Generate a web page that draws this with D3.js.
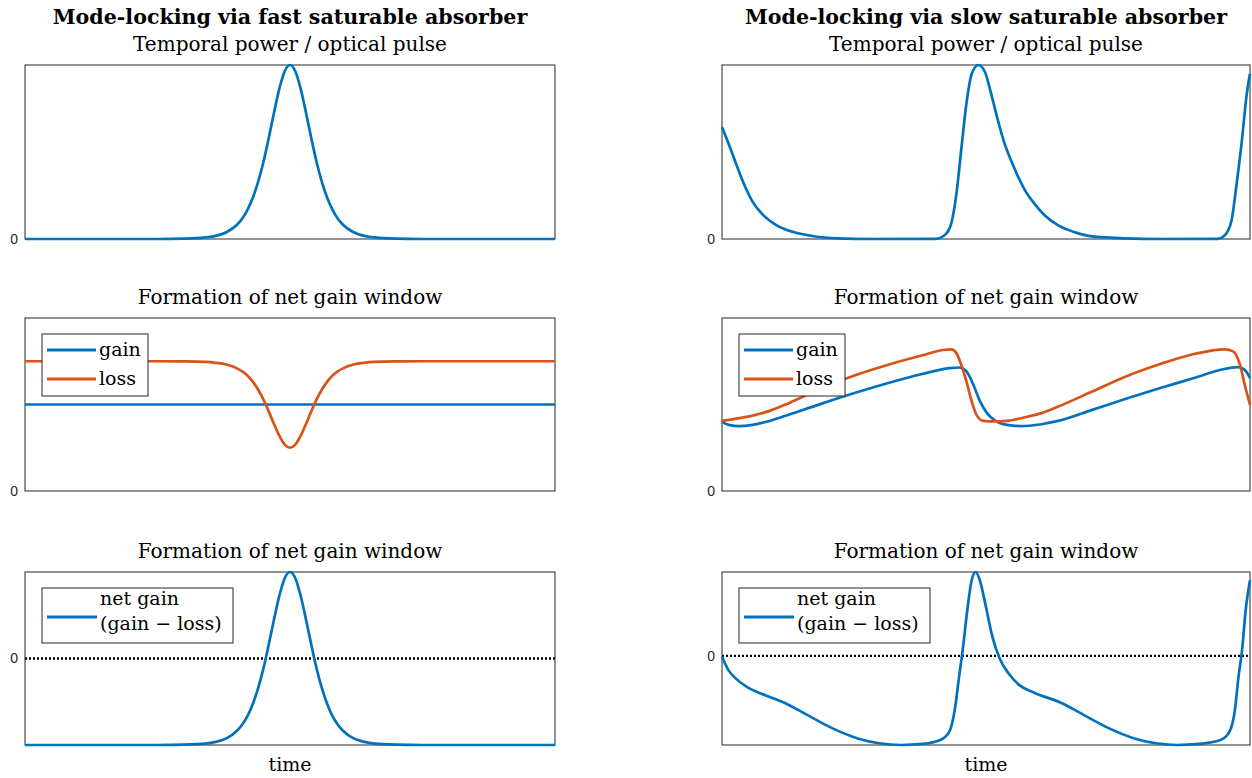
<!DOCTYPE html>
<html><head>
<meta charset="UTF-8">
<title>Mode-locking via saturable absorber</title>
<script src="https://cdn.jsdelivr.net/npm/d3@7"></script>
<style>
    body { margin: 0; background: #fff; }
    svg text { font-family: "DejaVu Serif", serif; fill: #000; }
</style>
</head>
<body>
<svg id="chart" width="1252" height="778"></svg>
<script>
// ---- data (time axis runs 0..100 in every panel) ----
// fast saturable absorber
const fastTime  = [0, 20, 25, 30, 34, 36, 38, 40, 41, 42, 43, 44, 45, 46, 47, 48, 49, 50, 51, 52, 53, 54, 55, 56, 57, 58, 59, 60, 62, 64, 66, 70, 75, 80, 100];
const fastPulse = [0, 0, 0, 0.002, 0.009, 0.018, 0.039, 0.082, 0.118, 0.169, 0.238, 0.33, 0.444, 0.582, 0.729, 0.865, 0.964, 1, 0.964, 0.865, 0.729, 0.582, 0.444, 0.33, 0.238, 0.169, 0.118, 0.082, 0.039, 0.018, 0.009, 0.002, 0, 0, 0];
const fastLoss  = [0.75, 0.75, 0.75, 0.749, 0.746, 0.741, 0.731, 0.709, 0.691, 0.666, 0.631, 0.585, 0.528, 0.459, 0.386, 0.318, 0.268, 0.25, 0.268, 0.318, 0.386, 0.459, 0.528, 0.585, 0.631, 0.666, 0.691, 0.709, 0.731, 0.741, 0.746, 0.749, 0.75, 0.75, 0.75];
const fastNet   = [-0.25, -0.25, -0.25, -0.249, -0.246, -0.241, -0.231, -0.209, -0.191, -0.166, -0.131, -0.085, -0.028, 0.041, 0.114, 0.182, 0.232, 0.25, 0.232, 0.182, 0.114, 0.041, -0.028, -0.085, -0.131, -0.166, -0.191, -0.209, -0.231, -0.241, -0.246, -0.249, -0.25, -0.25, -0.25];
const fastGainTime = [0, 100];
const fastGain     = [0.5, 0.5];

// slow saturable absorber
const slowPulseTime = [0, 1.29, 2.57, 4.18, 5.79, 7.72, 10.29, 13.5, 17.4, 21.9, 28.3, 40.5, 42.1, 43.4, 44.4, 45.3, 46.3, 47.3, 48.55, 49.8, 50.8, 52.1, 53.4, 54.7, 55.9, 57.2, 59.2, 61.1, 63.7, 66.9, 70.1, 76.5, 83, 93.9, 95.2, 96.5, 97.4, 98.4, 99.4, 100];
const slowPulse     = [0.644, 0.545, 0.44, 0.315, 0.215, 0.14, 0.08, 0.04, 0.016, 0.004, 0, 0.001, 0.02, 0.087, 0.26, 0.51, 0.78, 0.95, 1.0, 0.96, 0.856, 0.70, 0.56, 0.455, 0.37, 0.29, 0.202, 0.137, 0.078, 0.038, 0.015, 0.004, 0, 0.001, 0.02, 0.106, 0.30, 0.548, 0.837, 0.95];
const slowGainTime = [0, 1.29, 3.22, 5.79, 9.0, 12.2, 18.6, 25.1, 31.5, 37.9, 43.1, 45.0, 46.3, 47.6, 48.9, 50.2, 51.8, 54.0, 56.6, 60.5, 63.7, 70.1, 76.5, 83.0, 89.4, 94.5, 97.7, 99.0, 100];
const slowGain     = [0.398, 0.382, 0.375, 0.382, 0.405, 0.436, 0.502, 0.566, 0.624, 0.676, 0.710, 0.714, 0.691, 0.614, 0.517, 0.450, 0.405, 0.382, 0.375, 0.386, 0.405, 0.469, 0.533, 0.595, 0.653, 0.701, 0.716, 0.70, 0.653];
const slowLossTime = [0, 3.22, 5.79, 9.0, 12.2, 15.4, 18.6, 25.1, 31.5, 37.9, 41.8, 43.4, 44.4, 45.3, 46.3, 47.3, 48.2, 49.5, 51.4, 54.0, 57.2, 60.5, 63.7, 70.1, 76.5, 83.0, 89.4, 95.2, 96.8, 98.1, 99.0, 100];
const slowLoss     = [0.405, 0.421, 0.436, 0.463, 0.502, 0.546, 0.591, 0.668, 0.730, 0.784, 0.815, 0.819, 0.797, 0.730, 0.633, 0.517, 0.440, 0.405, 0.402, 0.405, 0.425, 0.450, 0.488, 0.575, 0.662, 0.734, 0.792, 0.819, 0.807, 0.730, 0.614, 0.498];
const slowNetTime = [0, 1.22, 2.59, 4.63, 7.35, 11.4, 16.2, 20.95, 25.7, 29.8, 33.9, 37.96, 41.36, 43.06, 44.08, 44.9, 45.58, 46.46, 47.28, 48.03, 48.84, 49.86, 51.22, 52.59, 54.29, 56.33, 59.05, 64.49, 68.57, 73.33, 78.1, 82.18, 86.26, 90.34, 94.42, 96.12, 97.14, 97.82, 98.5, 99.18, 100];
const slowNet     = [-0.005, -0.082, -0.13, -0.178, -0.217, -0.265, -0.342, -0.419, -0.477, -0.505, -0.515, -0.509, -0.486, -0.438, -0.313, -0.121, 0.033, 0.264, 0.437, 0.485, 0.437, 0.302, 0.11, -0.015, -0.102, -0.169, -0.211, -0.275, -0.342, -0.419, -0.477, -0.505, -0.515, -0.509, -0.486, -0.438, -0.313, -0.121, 0.033, 0.264, 0.437];

const columnTitles = ["Mode-locking via fast saturable absorber", "Mode-locking via slow saturable absorber"];
const rowTitles = ["Temporal power / optical pulse", "Formation of net gain window", "Formation of net gain window"];
const gainLossLabels = ["gain", "loss"];
const netLabels = ["net gain", "(gain \u2212 loss)"];
const xLabel = "time";

// ---- layout ----
const blue = "#0072BD", orange = "#D95319", axisColor = "#262626";
const xCols = [[25, 555], [722, 1250]];
const yRows = [[65, 239], [318, 491], [572, 745]];
const svg = d3.select("#chart");

function panel(ci, ri, domain, series, opts) {
    const x = d3.scaleLinear().domain([0, 100]).range(xCols[ci]);
    const y = d3.scaleLinear().domain(domain).range([yRows[ri][1], yRows[ri][0]]);
    const g = svg.append("g");

    g.append("rect")
        .attr("x", xCols[ci][0]).attr("y", yRows[ri][0])
        .attr("width", xCols[ci][1] - xCols[ci][0])
        .attr("height", yRows[ri][1] - yRows[ri][0])
        .attr("fill", "none").attr("stroke", axisColor).attr("stroke-width", 1);

    const ax = g.append("g")
        .attr("transform", `translate(${xCols[ci][0]},0)`)
        .call(d3.axisLeft(y).tickValues([0]).tickFormat(d3.format("d")).tickSize(0).tickPadding(7));
    ax.select(".domain").remove();
    ax.selectAll("text")
        .style("font-family", "'Liberation Sans', Arial, sans-serif")
        .style("font-size", "14px").style("fill", axisColor);

    if (opts.zeroLine) {
        g.append("line")
            .attr("x1", x(0)).attr("x2", x(100))
            .attr("y1", y(0)).attr("y2", y(0))
            .attr("stroke", "#000").attr("stroke-width", 2.4)
            .attr("stroke-dasharray", "2,2");
    }

    const line = d3.line().x(d => x(d[0])).y(d => y(d[1])).curve(d3.curveMonotoneX);
    series.forEach(s => {
        g.append("path")
            .datum(d3.zip(s.t, s.v))
            .attr("d", line)
            .attr("fill", "none")
            .attr("stroke", s.color)
            .attr("stroke-width", 2.7)
            .attr("stroke-linejoin", "round");
    });

    // legend
    const lx = xCols[ci][0] + 17;
    if (opts.legend === "gainloss") {
        const ly = yRows[ri][0] + 16;
        const lg = g.append("g");
        lg.append("rect").attr("x", lx).attr("y", ly).attr("width", 106).attr("height", 62)
            .attr("fill", "#fff").attr("stroke", axisColor).attr("stroke-width", 1);
        [blue, orange].forEach((c, i) => {
            const yy = ly + 16 + i * 29;
            lg.append("line").attr("x1", lx + 5).attr("x2", lx + 54).attr("y1", yy).attr("y2", yy)
                .attr("stroke", c).attr("stroke-width", 2.8);
            lg.append("text").attr("x", lx + 57).attr("y", yy + 6)
                .attr("font-size", 19).text(gainLossLabels[i]);
        });
    } else if (opts.legend === "net") {
        const ly = yRows[ri][0] + 16;
        const lg = g.append("g");
        lg.append("rect").attr("x", lx).attr("y", ly).attr("width", 191).attr("height", 55)
            .attr("fill", "#fff").attr("stroke", axisColor).attr("stroke-width", 1);
        lg.append("line").attr("x1", lx + 5).attr("x2", lx + 55).attr("y1", ly + 29).attr("y2", ly + 29)
            .attr("stroke", blue).attr("stroke-width", 2.8);
        netLabels.forEach((t, i) => {
            lg.append("text").attr("x", lx + 58).attr("y", ly + 17 + i * 25)
                .attr("font-size", 19).text(t);
        });
    }

    // panel title
    const cx = (xCols[ci][0] + xCols[ci][1]) / 2;
    g.append("text").attr("x", cx).attr("y", yRows[ri][0] - 14)
        .attr("text-anchor", "middle").attr("font-size", 20).text(rowTitles[ri]);
    if (ri === 0) {
        g.append("text").attr("x", cx).attr("y", 24)
            .attr("text-anchor", "middle").attr("font-size", 20.6).attr("font-weight", "bold")
            .text(columnTitles[ci]);
    }
    if (ri === 2) {
        g.append("text").attr("x", cx).attr("y", yRows[ri][1] + 26)
            .attr("text-anchor", "middle").attr("font-size", 19).text(xLabel);
    }
}

panel(0, 0, [0, 1], [{t: fastTime, v: fastPulse, color: blue}], {});
panel(0, 1, [0, 1], [{t: fastGainTime, v: fastGain, color: blue}, {t: fastTime, v: fastLoss, color: orange}], {legend: "gainloss"});
panel(0, 2, [-0.25, 0.25], [{t: fastTime, v: fastNet, color: blue}], {legend: "net", zeroLine: true});

panel(1, 0, [0, 1], [{t: slowPulseTime, v: slowPulse, color: blue}], {});
panel(1, 1, [0, 1], [{t: slowGainTime, v: slowGain, color: blue}, {t: slowLossTime, v: slowLoss, color: orange}], {legend: "gainloss"});
panel(1, 2, [-0.515, 0.485], [{t: slowNetTime, v: slowNet, color: blue}], {legend: "net", zeroLine: true});
</script>
</body>
</html>
